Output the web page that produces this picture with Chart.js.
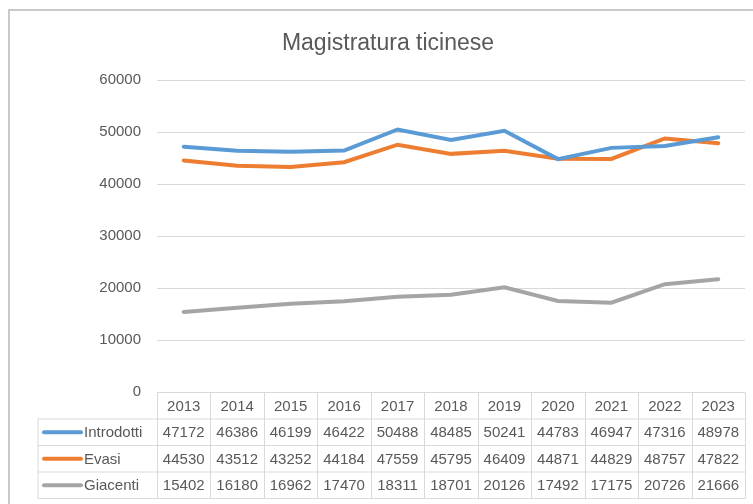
<!DOCTYPE html>
<html>
<head>
<meta charset="utf-8">
<script src="https://cdn.jsdelivr.net/npm/chart.js@4/dist/chart.umd.min.js"></script>
<style>
  html, body { margin: 0; padding: 0; background: #fff; }
  #wrap { width: 753px; height: 504px; position: relative; }
</style>
</head>
<body>
<div id="wrap"><canvas id="chart" width="753" height="504"></canvas></div>
<script>
// Magistratura ticinese - Excel style line chart with data table

const years = ['2013', '2014', '2015', '2016', '2017', '2018', '2019', '2020', '2021', '2022', '2023'];
const introdotti = [47172, 46386, 46199, 46422, 50488, 48485, 50241, 44783, 46947, 47316, 48978];
const evasi = [44530, 43512, 43252, 44184, 47559, 45795, 46409, 44871, 44829, 48757, 47822];
const giacenti = [15402, 16180, 16962, 17470, 18311, 18701, 20126, 17492, 17175, 20726, 21666];
const seriesNames = ['Introdotti', 'Evasi', 'Giacenti'];
const seriesColors = ['#5B9BD5', '#ED7D31', '#A5A5A5'];

const FONT = "'Liberation Sans', Arial, sans-serif";
const TEXT = '#595959';
const LINE = '#d9d9d9';

// frame + title
const framePlugin = {
  id: 'frame',
  beforeDraw(chart) {
    const ctx = chart.ctx;
    ctx.save();
    ctx.fillStyle = '#fff';
    ctx.fillRect(0, 0, chart.width, chart.height);
    ctx.strokeStyle = '#c9c9c9';
    ctx.lineWidth = 2;
    ctx.beginPath();
    ctx.moveTo(9, chart.height);
    ctx.lineTo(9, 10);
    ctx.lineTo(chart.width, 10);
    ctx.stroke();
    ctx.fillStyle = TEXT;
    ctx.font = '23px ' + FONT;
    ctx.textAlign = 'center';
    ctx.textBaseline = 'middle';
    ctx.fillText('Magistratura ticinese', 388, 44);
    ctx.restore();
  }
};

// data table under the plot
const tablePlugin = {
  id: 'dataTable',
  afterDraw(chart) {
    const ctx = chart.ctx;
    const x = chart.scales.x;
    const colW = x.getPixelForValue(1) - x.getPixelForValue(0);
    const left = x.getPixelForValue(0) - colW / 2;
    const right = x.getPixelForValue(years.length - 1) + colW / 2;
    const labelLeft = 38;
    const top = 392.5;
    const rowH = 26.5;
    const rows = [introdotti, evasi, giacenti];

    ctx.save();
    ctx.strokeStyle = LINE;
    ctx.lineWidth = 1;
    ctx.beginPath();
    ctx.moveTo(left, top); ctx.lineTo(right, top);
    ctx.moveTo(labelLeft, top + rowH); ctx.lineTo(right, top + rowH);
    for (let r = 1; r <= 3; r++) {
      ctx.moveTo(labelLeft, top + rowH * (r + 1)); ctx.lineTo(right, top + rowH * (r + 1));
    }
    ctx.moveTo(labelLeft, top + rowH); ctx.lineTo(labelLeft, top + rowH * 4);
    for (let i = 0; i <= years.length; i++) {
      const px = Math.round(left + colW * i) + 0.5;
      ctx.moveTo(px, top); ctx.lineTo(px, top + rowH * 4);
    }
    ctx.stroke();

    ctx.fillStyle = TEXT;
    ctx.font = '15px ' + FONT;
    ctx.textAlign = 'center';
    ctx.textBaseline = 'middle';
    years.forEach((y, i) => ctx.fillText(y, x.getPixelForValue(i), top + rowH / 2 + 1));
    rows.forEach((vals, r) => {
      const cy = top + rowH * (r + 1) + rowH / 2 + 1;
      vals.forEach((v, i) => ctx.fillText(String(v), x.getPixelForValue(i), cy));
      // legend key
      ctx.strokeStyle = seriesColors[r];
      ctx.lineWidth = 4;
      ctx.lineCap = 'round';
      ctx.beginPath();
      ctx.moveTo(44, cy - 1); ctx.lineTo(81, cy - 1);
      ctx.stroke();
      ctx.textAlign = 'left';
      ctx.fillText(seriesNames[r], 84, cy);
      ctx.textAlign = 'center';
    });
    ctx.restore();
  }
};

new Chart(document.getElementById('chart'), {
  type: 'line',
  data: {
    labels: years,
    datasets: [introdotti, evasi, giacenti].map((d, i) => ({
      label: seriesNames[i],
      data: d,
      borderColor: seriesColors[i],
      backgroundColor: seriesColors[i],
      borderWidth: 4,
      pointRadius: 0,
      tension: 0,
      borderCapStyle: 'round'
    }))
  },
  options: {
    responsive: false,
    animation: false,
    layout: { padding: { left: 0, top: 80, right: 8, bottom: 112 } },
    plugins: { legend: { display: false }, title: { display: false }, tooltip: { enabled: false } },
    scales: {
      x: { display: false, offset: true },
      y: {
        min: 0, max: 60000,
        afterFit(scale) { scale.width = 157; },
        border: { display: false },
        grid: { color: LINE, lineWidth: 1, drawTicks: false },
        ticks: {
          stepSize: 10000, padding: 16, color: TEXT,
          font: { family: FONT, size: 15 },
          callback: v => String(v)
        }
      }
    }
  },
  plugins: [framePlugin, tablePlugin]
});
</script>
</body>
</html>
